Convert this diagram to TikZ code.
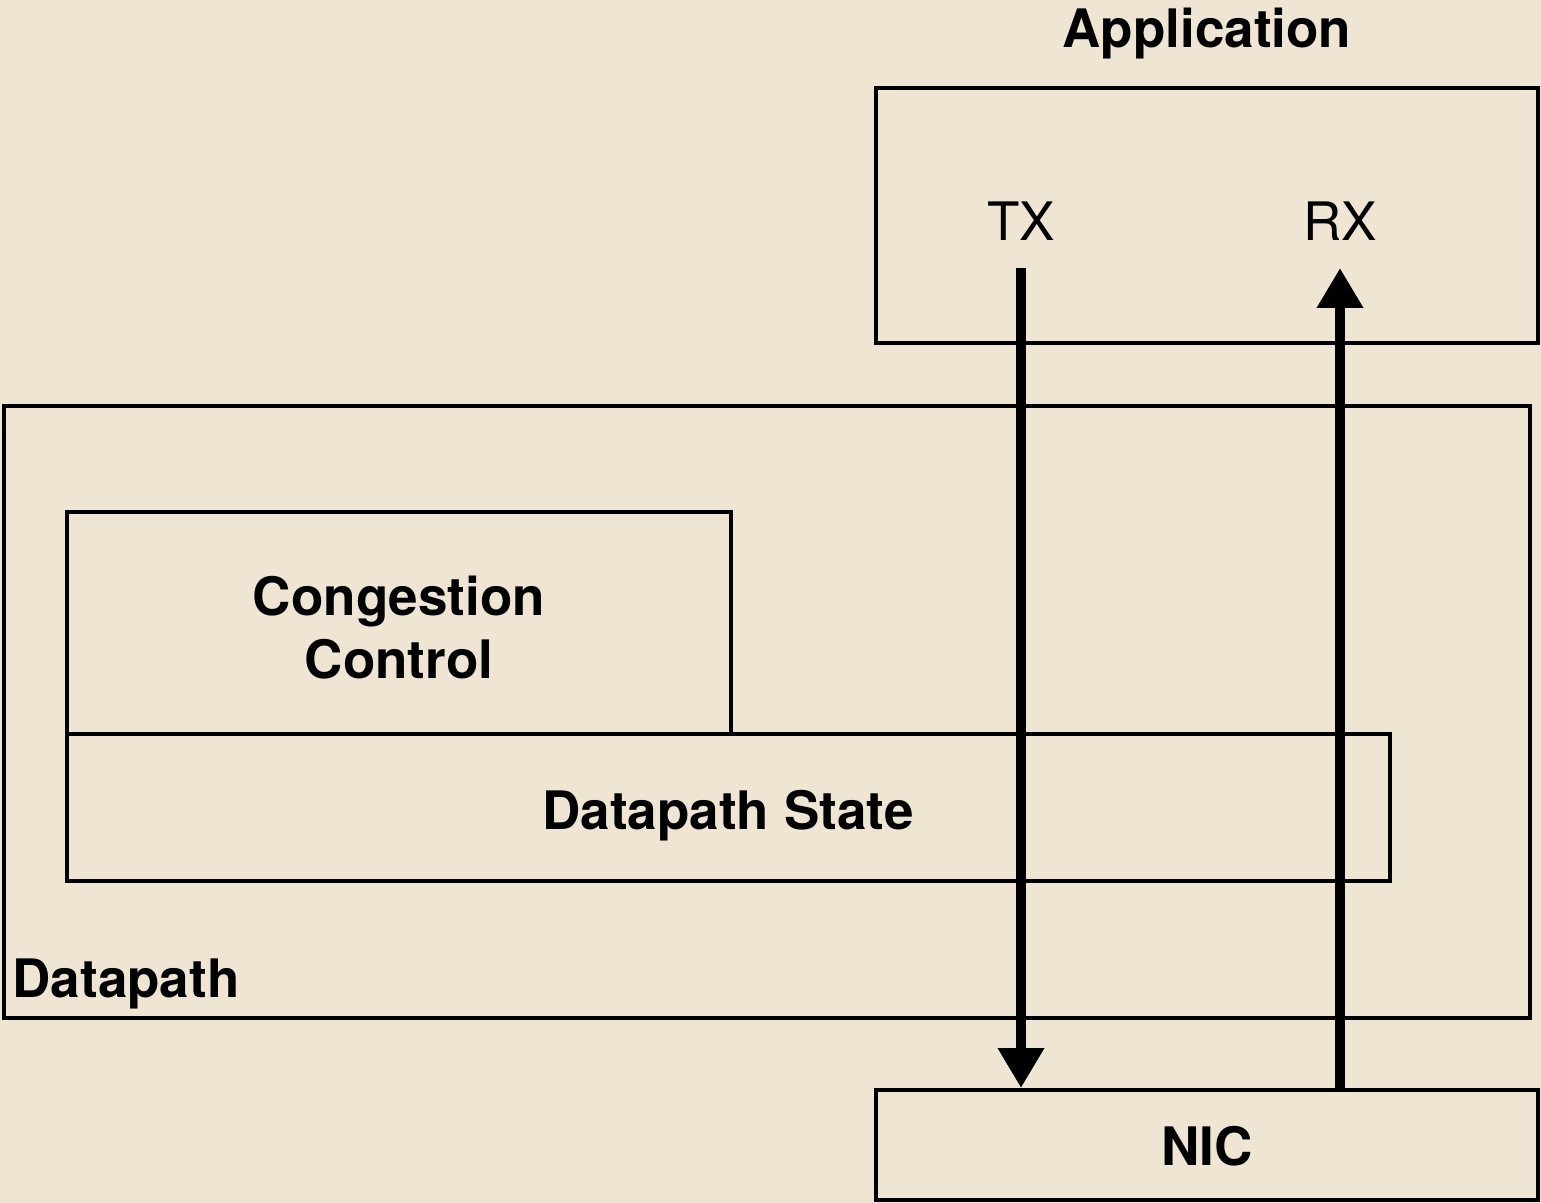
\documentclass[tikz,border=0pt]{standalone}
\usepackage{fontspec}
\setmainfont{TeX Gyre Heros}
\usetikzlibrary{arrows.meta}
\definecolor{bgc}{HTML}{EEE6D3}
\begin{document}
\begin{tikzpicture}[x=0.5pt,y=-0.5pt,
  box/.style={draw=black,line width=2pt,rectangle,inner sep=0pt},
  lbl/.style={inner sep=0pt,font=\fontsize{26.5}{31.5}\selectfont},
  blbl/.style={inner sep=0pt,font=\fontsize{26.5}{31.5}\selectfont\bfseries},
  flow/.style={line width=5pt,-{Triangle[width=22pt,length=20pt]}}]
\fill[bgc] (0,0) rectangle (1541,1203);
\useasboundingbox (0,0) rectangle (1541,1203);
% boxes
\node[box,minimum width=331pt,minimum height=127.5pt] (app) at (1207,215.5) {};
\node[box,minimum width=763pt,minimum height=306pt] (dp) at (767,712) {};
\node[box,minimum width=332pt,minimum height=111pt] (cc) at (399,623) {};
\node[box,minimum width=661.5pt,minimum height=73.5pt] (ds) at (728.5,807.5) {};
\node[box,minimum width=331pt,minimum height=55pt] (nic) at (1207,1145) {};
% labels
\node[blbl,anchor=base] (applbl) at (1207,48) {Application};
\node[lbl] (tx) at (1021,221) {TX};
\node[lbl] (rx) at (1340,221) {RX};
\node[blbl,anchor=base,align=center] (cclbl) at (399,678) {Congestion\\Control};
\node[blbl,anchor=base] (dslbl) at (728,829) {Datapath State};
\node[blbl,anchor=base west] (dplbl) at (12,997) {Datapath};
\node[blbl,anchor=base] (niclbl) at (1207,1165) {NIC};
% arrows
\coordinate (txs) at (1021,268);
\coordinate (rxe) at (1340,268);
\draw[flow] (txs) -- (txs |- nic.north);
\draw[flow] (rxe |- nic.north) -- (rxe);
\end{tikzpicture}
\end{document}
